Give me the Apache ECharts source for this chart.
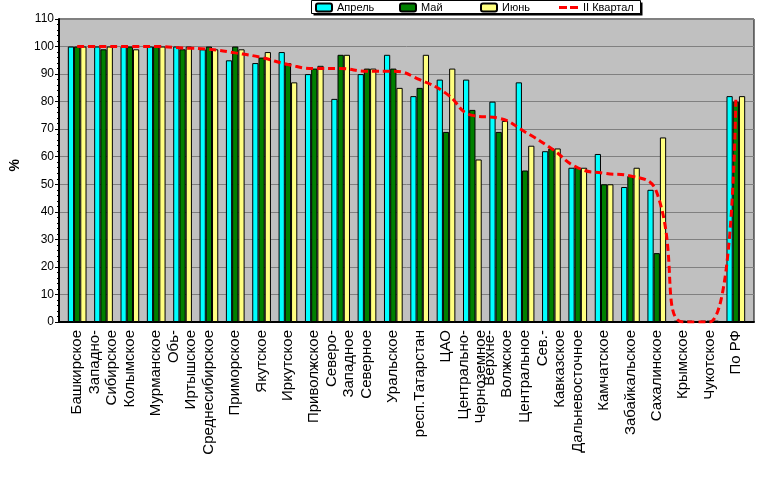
<!DOCTYPE html>
<html>
<head>
<meta charset="utf-8">
<script src="https://cdn.jsdelivr.net/npm/echarts@6/dist/echarts.min.js"></script>
<style>
html, body { margin: 0; padding: 0; background: #fff; }
#chart { width: 777px; height: 479px; }
</style>
</head>
<body>
<div id="chart"></div>
<script>
// данные по регионам, %
var categories = ['Башкирское', 'Западно-\nСибирское', 'Колымское', 'Мурманское', 'Обь-\nИртышское',
	'Среднесибирское', 'Приморское', 'Якутское', 'Иркутское', 'Приволжское', 'Северо-\nЗападное',
	'Северное', 'Уральское', 'респ.Татарстан', 'ЦАО', 'Центрально-\nЧерноземное', 'Верхне-\nВолжское',
	'Центральное', 'Сев.-\nКавказское', 'Дальневосточное', 'Камчатское', 'Забайкальское', 'Сахалинское',
	'Крымское', 'Чукотское', 'По РФ'];
var april = [100, 100, 100, 100, 100, 99, 95, 94, 98, 90, 81, 90, 97, 82, 88, 88, 80, 87, 62, 56, 61, 49, 48, 0.5, 0.5, 82];
var may = [100, 99, 100, 100, 99, 100, 100, 96, 94, 92, 97, 92, 92, 85, 69, 77, 69, 55, 63, 56, 50, 53, 25, 0.5, 0.5, 80];
var june = [100, 100, 99, 100, 100, 99, 99, 98, 87, 93, 97, 92, 85, 97, 92, 59, 73, 64, 63, 56, 50, 56, 67, 0.5, 0.5, 82];
var quarter = [100, 100, 100, 100, 99.5, 99, 97.7, 96, 93.5, 92, 92, 91, 91, 88, 83, 75, 74, 69, 63, 56, 54, 53, 47, 0, 0, 81];
var yTicks = [0, 110, 10]; // min, max, шаг

var font = 'Liberation Sans, Arial, sans-serif';
var myChart = echarts.init(document.getElementById('chart'));

function barSeries(name, data, color) {
	return {
		name: name,
		type: 'bar',
		data: data,
		barGap: '0%',
		barCategoryGap: '29%',
		itemStyle: { color: color, borderColor: '#000', borderWidth: 1 },
		emphasis: { disabled: true }
	};
}

function oneLegend(name, left, extra) {
	var lg = {
		data: [name],
		left: left,
		top: 2,
		itemWidth: 16,
		itemHeight: 8,
		padding: 0,
		selectedMode: false,
		textStyle: { fontFamily: font, fontSize: 11, color: '#000' }
	};
	if(extra) echarts.util.extend(lg, extra);
	return lg;
}

var option = {
	animation: false,
	textStyle: { fontFamily: font },
	legend: [
		oneLegend('Апрель', 315),
		oneLegend('Май', 399),
		oneLegend('Июнь', 480),
		// пунктир для линии
		oneLegend('II Квартал', 559, {
			data: [{ name: 'II Квартал', icon: 'path://M0,0h8v3h-8z M11,0h8v3h-8z' }],
			itemWidth: 19,
			itemHeight: 3,
			itemStyle: { color: '#ff0000', borderWidth: 0 }
		})
	],
	graphic: [
		{ type: 'rect', z: -1, shape: { x: 313.5, y: 2.5, width: 329, height: 13 }, style: { fill: '#000' } },
		{ type: 'rect', z: 0, shape: { x: 311.5, y: 0.5, width: 329, height: 13 }, style: { fill: '#fff', stroke: '#000', lineWidth: 1 } },
		{
			type: 'text', left: 8, top: 159, rotation: Math.PI / 2,
			style: { text: '%', font: 'bold 14px ' + font, fill: '#000' }
		}
	],
	grid: [
		{ left: 64, right: 28, top: 19, bottom: 157 },
		{ left: 59, right: 23, top: 19, bottom: 157, show: true, backgroundColor: '#c0c0c0', borderColor: '#000', borderWidth: 1 }
	],
	xAxis: [{
		type: 'category',
		gridIndex: 0,
		data: categories,
		axisLine: { show: false },
		axisTick: { alignWithLabel: true, length: 4, lineStyle: { color: '#000' } },
		axisLabel: {
			interval: 0,
			rotate: 90,
			margin: 8,
			fontFamily: font,
			fontSize: 15,
			lineHeight: 17,
			color: '#000'
		}
	}, {
		type: 'value',
		gridIndex: 1,
		min: 0,
		max: 1,
		axisLine: { show: true, onZero: false, lineStyle: { color: '#000', width: 2 } },
		axisTick: { show: false },
		axisLabel: { show: false },
		splitLine: { show: false }
	}],
	yAxis: [{
		type: 'value',
		gridIndex: 0,
		min: yTicks[0],
		max: yTicks[1],
		interval: yTicks[2],
		show: false
	}, {
		type: 'value',
		gridIndex: 1,
		min: yTicks[0],
		max: yTicks[1],
		interval: yTicks[2],
		axisLine: { show: true, lineStyle: { color: '#000', width: 2 } },
		axisTick: { show: true, length: 4, lineStyle: { color: '#000' } },
		minorTick: { show: true, splitNumber: 5, length: 2, lineStyle: { color: '#000' } },
		axisLabel: { fontFamily: font, fontSize: 12, color: '#000', margin: 5 },
		splitLine: { show: true, lineStyle: { color: '#808080', width: 1 } }
	}],
	series: [
		barSeries('Апрель', april, '#00ffff'),
		barSeries('Май', may, '#008000'),
		barSeries('Июнь', june, '#ffff80'),
		{
			name: 'II Квартал',
			type: 'line',
			data: quarter,
			smooth: 0.5,
			symbol: 'none',
			z: 5,
			itemStyle: { color: '#ff0000' },
			lineStyle: { color: '#ff0000', width: 3, type: [7, 4] },
			emphasis: { disabled: true }
		}
	]
};
myChart.setOption(option);
</script>
</body>
</html>
